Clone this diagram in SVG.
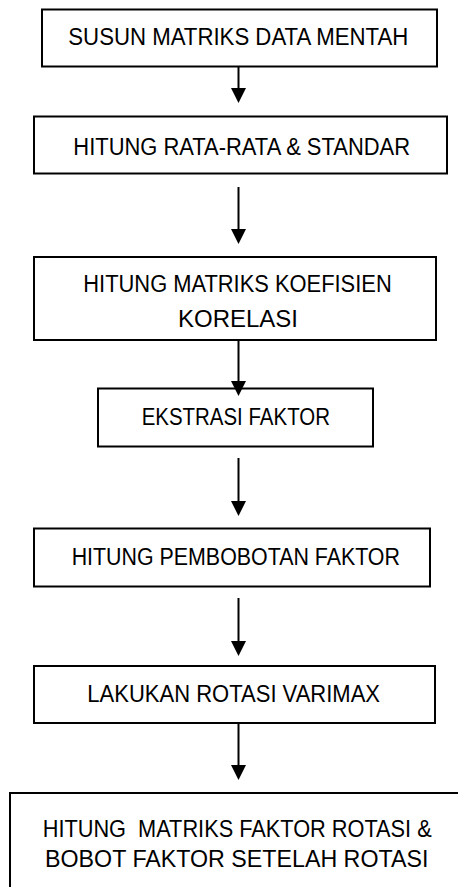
<svg xmlns="http://www.w3.org/2000/svg" width="458" height="887" viewBox="0 0 458 887">
<style>
.box{fill:#fff;stroke:#000;stroke-width:2}
.t{font-family:"Liberation Sans",Arial,sans-serif;font-size:23.3px;fill:#000;text-anchor:middle}
.t7{font-size:24px}
.ln{stroke:#000;stroke-width:2;fill:none}
.hd{fill:#000}
</style>
<rect width="458" height="887" fill="#fff"/>
<g id="n1"><rect class="box" x="42" y="9.5" width="395" height="57"/><text class="t" x="238.3" y="45" textLength="340" lengthAdjust="spacingAndGlyphs">SUSUN MATRIKS DATA MENTAH</text></g>
<g id="n2"><rect class="box" x="34" y="116.5" width="413" height="57"/><text class="t" x="241.7" y="155" textLength="336.7" lengthAdjust="spacingAndGlyphs">HITUNG RATA-RATA &amp; STANDAR</text></g>
<g id="n3"><rect class="box" x="34" y="257" width="402" height="83"/><text class="t" x="237.5" y="291.5" textLength="308.4" lengthAdjust="spacingAndGlyphs">HITUNG MATRIKS KOEFISIEN</text><text class="t" x="238" y="326.5" textLength="120" lengthAdjust="spacingAndGlyphs">KORELASI</text></g>
<g id="n4"><rect class="box" x="98" y="388.5" width="275" height="58"/><text class="t" x="235.8" y="425" textLength="188.3" lengthAdjust="spacingAndGlyphs">EKSTRASI FAKTOR</text></g>
<g id="n5"><rect class="box" x="34" y="528.5" width="396" height="58"/><text class="t" x="235.8" y="565" textLength="328.3" lengthAdjust="spacingAndGlyphs">HITUNG PEMBOBOTAN FAKTOR</text></g>
<g id="n6"><rect class="box" x="34" y="666" width="401" height="57"/><text class="t" x="233.7" y="701.5" textLength="292.7" lengthAdjust="spacingAndGlyphs">LAKUKAN ROTASI VARIMAX</text></g>
<g id="n7"><rect class="box" x="10" y="793" width="460" height="110"/><text class="t t7" x="237.2" y="836.5" xml:space="preserve" textLength="389" lengthAdjust="spacingAndGlyphs">HITUNG  MATRIKS FAKTOR ROTASI &amp;</text><text class="t t7" x="236.7" y="866.5" textLength="383.3" lengthAdjust="spacingAndGlyphs">BOBOT FAKTOR SETELAH ROTASI</text></g>
<g id="connectors">
<line class="ln" x1="238.5" y1="66" x2="238.5" y2="89"/><polygon class="hd" points="231,88 246,88 238.5,103"/>
<line class="ln" x1="238.5" y1="187" x2="238.5" y2="230"/><polygon class="hd" points="231,229 246,229 238.5,244"/>
<line class="ln" x1="238.5" y1="340" x2="238.5" y2="382"/><polygon class="hd" points="231,381 246,381 238.5,396"/>
<line class="ln" x1="238.5" y1="458" x2="238.5" y2="502"/><polygon class="hd" points="231,501 246,501 238.5,516"/>
<line class="ln" x1="238.5" y1="598" x2="238.5" y2="642"/><polygon class="hd" points="231,641 246,641 238.5,656"/>
<line class="ln" x1="238.5" y1="723" x2="238.5" y2="766"/><polygon class="hd" points="231,765 246,765 238.5,780"/>
</g>
</svg>
